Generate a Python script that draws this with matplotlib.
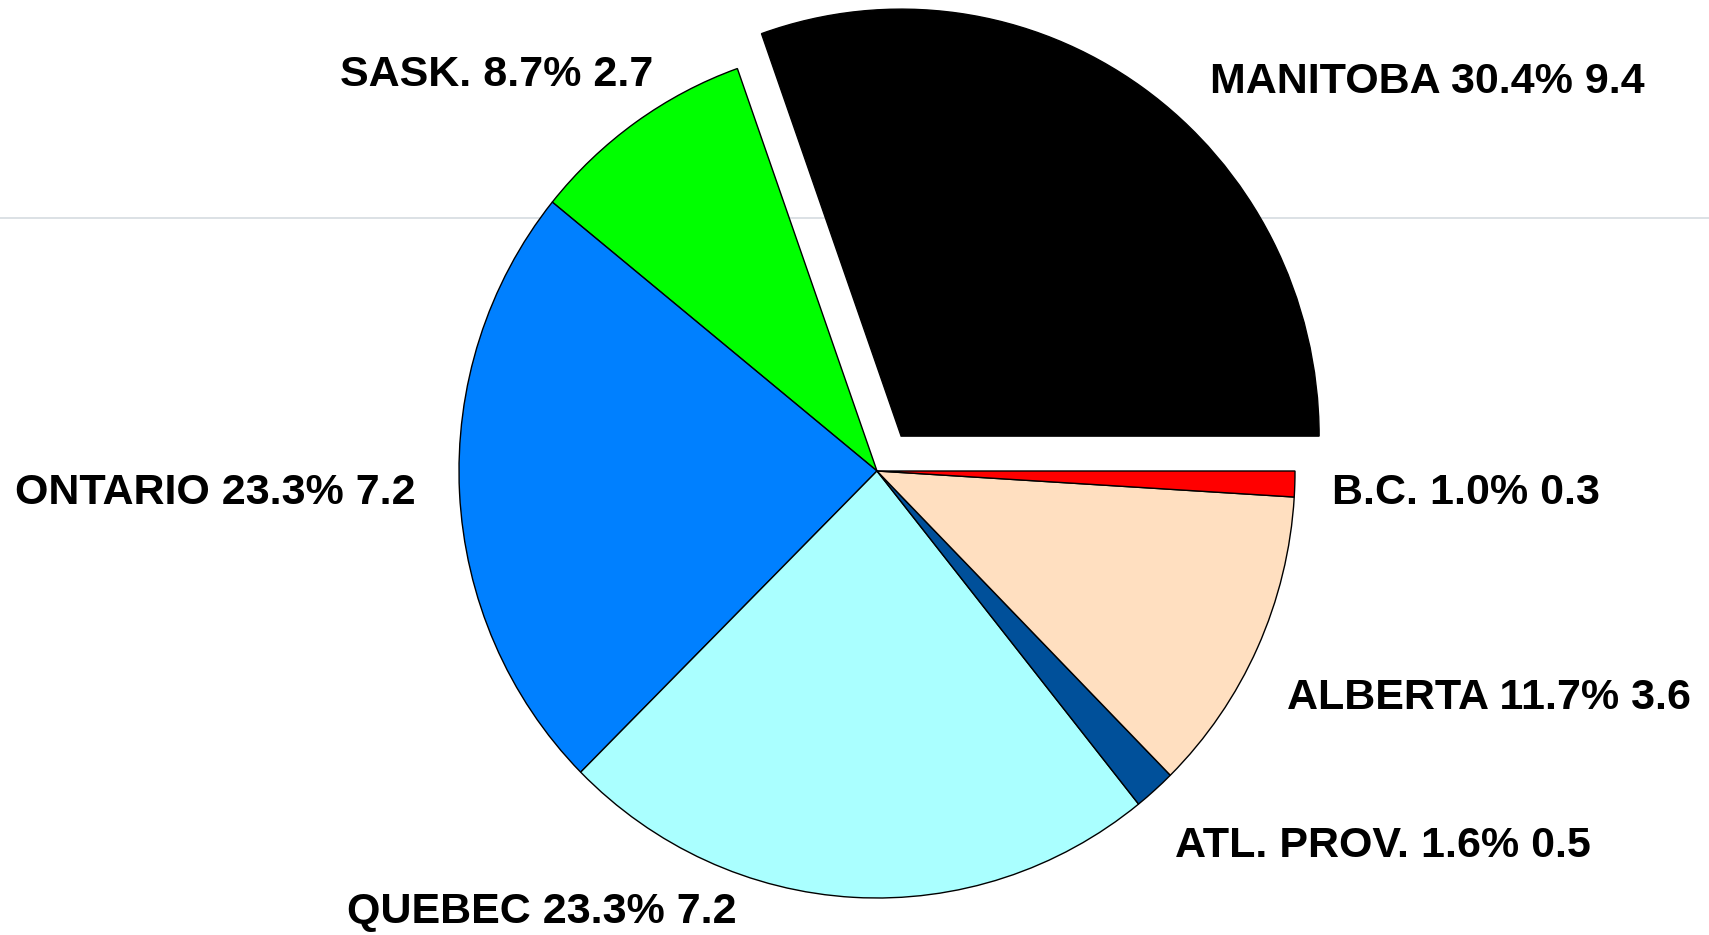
import matplotlib
matplotlib.use('Agg')
import matplotlib.pyplot as plt

# slices, counter-clockwise from 3 o'clock
provinces = ['MANITOBA', 'SASK.', 'ONTARIO', 'QUEBEC', 'ATL. PROV.', 'ALBERTA', 'B.C.']
values = [9.4, 2.7, 7.2, 7.2, 0.5, 3.6, 0.3]
colours = ['#000000', '#00ff00', '#0080ff', '#aaffff', '#00509a', '#ffdfc0', '#ff0000']
explode = [0.1, 0, 0, 0, 0, 0, 0]

# label anchor points (left edge, vertical centre) in pie units
label_pos = [(0.797, 0.910), (-1.285, 0.927), (-2.062, -0.052), (-1.268, -1.033),
             (0.713, -0.879), (0.981, -0.532), (1.089, -0.052)]

plt.rcParams['font.family'] = ['Liberation Sans', 'DejaVu Sans']

fig = plt.figure(figsize=(17.09, 9.35), dpi=100)
ax = fig.add_axes([0, 0, 1, 1])
ax.axis('off')

# faint rule across the page
ax.axhline(0.593, color='#d5dbe0', lw=1.2, zorder=0)

ax.pie(values, colors=colours, explode=explode, startangle=0, counterclock=True,
       wedgeprops=dict(edgecolor='black', linewidth=1.0), radius=1.0, frame=False)

total = sum(values)
for name, val, (x, y) in zip(provinces, values, label_pos):
    pct = val / total * 100
    ax.text(x, y, f'{name} {pct:.1f}% {val}', ha='left', va='center',
            fontsize=31, fontweight='bold', color='black')

ax.set_aspect('auto')
ax.set_xlim(-877 / 418, (1709 - 877) / 418)
ax.set_ylim(-(935 - 471) / 427, 471 / 427)

fig.savefig('out.png', dpi=100, facecolor='white')
